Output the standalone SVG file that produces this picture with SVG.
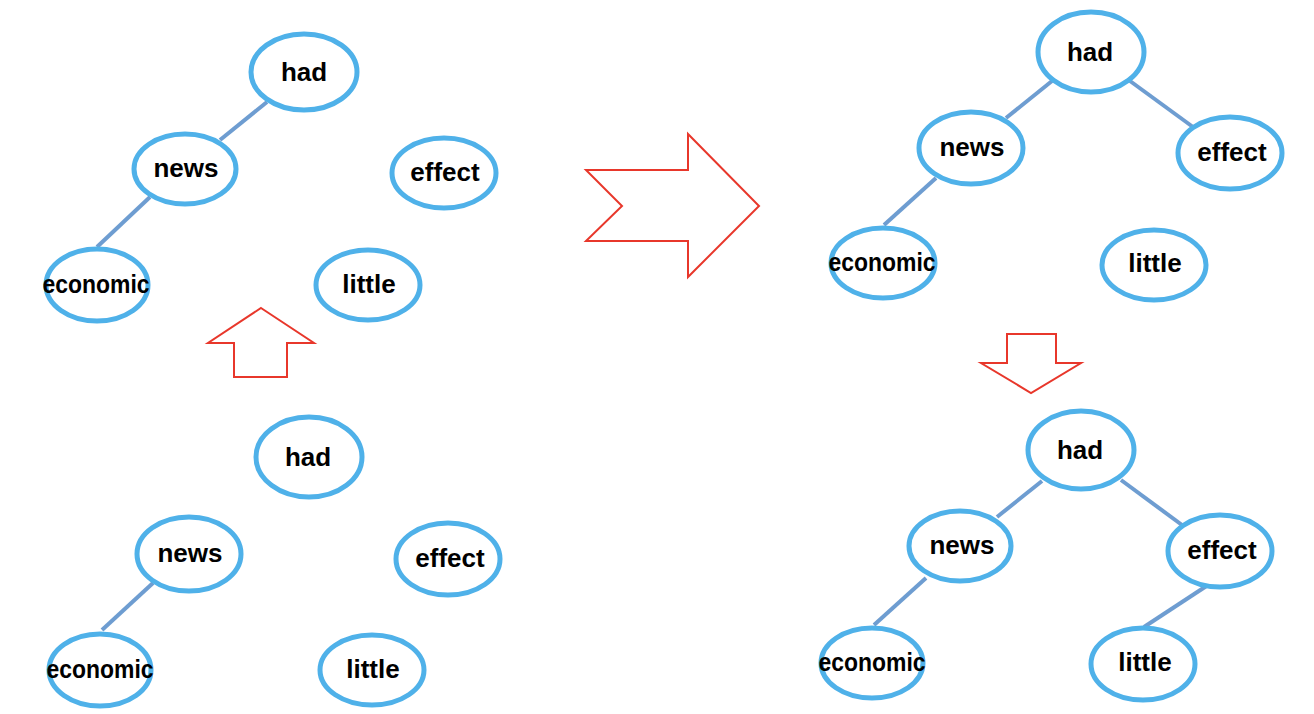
<svg xmlns="http://www.w3.org/2000/svg" width="1314" height="714" viewBox="0 0 1314 714">
<style>
.n ellipse{fill:#fff;stroke:#4fb1e9;stroke-width:5}
.n text{font-family:"Liberation Sans",Arial,sans-serif;font-weight:bold;font-size:26px;text-anchor:middle;fill:#000}
.e line{stroke:#6e9dd1;stroke-width:4;stroke-linecap:butt}
.a{fill:#fff;stroke:#e8372b;stroke-width:2}
</style>
<rect width="1314" height="714" fill="#fff"/>
<g class="e" id="connectors">
<line x1="267" y1="102" x2="220" y2="140"/>
<line x1="150" y1="197" x2="97" y2="247"/>
<line x1="1052" y1="81" x2="1006" y2="118"/>
<line x1="1130" y1="81" x2="1193" y2="127"/>
<line x1="936" y1="178" x2="884" y2="225"/>
<line x1="153" y1="583" x2="102" y2="630"/>
<line x1="1042" y1="481" x2="997" y2="517"/>
<line x1="1121" y1="480" x2="1182" y2="525"/>
<line x1="926" y1="578" x2="874" y2="625"/>
<line x1="1208" y1="585" x2="1144" y2="627"/>
</g>
<g id="arrows">
<polygon class="a" id="arrow-up" points="261,308 314,343 287,343 287,377 234,377 234,343 208,343"/>
<polygon class="a" id="arrow-right" points="586,170 688,170 688,134 759,206 688,277 688,241 586,241 622,206"/>
<polygon class="a" id="arrow-down" points="1007,334 1056,334 1056,363 1081,363 1031,393 981,363 1007,363"/>
</g>
<!-- panel 1: top-left -->
<g class="n" id="p1-had"><ellipse cx="304" cy="72" rx="53" ry="38"/><text x="304" y="81">had</text></g>
<g class="n" id="p1-news"><ellipse cx="185" cy="169" rx="51" ry="35"/><text x="186" y="177">news</text></g>
<g class="n" id="p1-effect"><ellipse cx="444" cy="173" rx="52" ry="35"/><text x="445" y="181">effect</text></g>
<g class="n" id="p1-economic"><ellipse cx="97" cy="285" rx="51" ry="36"/><text x="96" y="293" textLength="107" lengthAdjust="spacingAndGlyphs">economic</text></g>
<g class="n" id="p1-little"><ellipse cx="368" cy="285" rx="52" ry="35"/><text x="369" y="293">little</text></g>
<!-- panel 2: top-right -->
<g class="n" id="p2-had"><ellipse cx="1091" cy="52" rx="53" ry="40"/><text x="1090" y="61">had</text></g>
<g class="n" id="p2-news"><ellipse cx="971" cy="148" rx="52" ry="36"/><text x="972" y="156">news</text></g>
<g class="n" id="p2-effect"><ellipse cx="1230" cy="153" rx="52" ry="36"/><text x="1232" y="161">effect</text></g>
<g class="n" id="p2-economic"><ellipse cx="883" cy="263" rx="52" ry="35"/><text x="882" y="271" textLength="107" lengthAdjust="spacingAndGlyphs">economic</text></g>
<g class="n" id="p2-little"><ellipse cx="1154" cy="265" rx="52" ry="35"/><text x="1155" y="272">little</text></g>
<!-- panel 3: bottom-left -->
<g class="n" id="p3-had"><ellipse cx="309" cy="457" rx="53" ry="40"/><text x="308" y="466">had</text></g>
<g class="n" id="p3-news"><ellipse cx="189" cy="554" rx="52" ry="37"/><text x="190" y="562">news</text></g>
<g class="n" id="p3-effect"><ellipse cx="448" cy="559" rx="52" ry="36"/><text x="450" y="567">effect</text></g>
<g class="n" id="p3-economic"><ellipse cx="100" cy="670" rx="51" ry="36"/><text x="100" y="678" textLength="107" lengthAdjust="spacingAndGlyphs">economic</text></g>
<g class="n" id="p3-little"><ellipse cx="372" cy="670" rx="52" ry="35"/><text x="373" y="678">little</text></g>
<!-- panel 4: bottom-right -->
<g class="n" id="p4-had"><ellipse cx="1081" cy="450" rx="53" ry="39"/><text x="1080" y="459">had</text></g>
<g class="n" id="p4-news"><ellipse cx="960" cy="546" rx="51" ry="35"/><text x="962" y="554">news</text></g>
<g class="n" id="p4-effect"><ellipse cx="1220" cy="551" rx="52" ry="36"/><text x="1222" y="559">effect</text></g>
<g class="n" id="p4-economic"><ellipse cx="872" cy="663" rx="51" ry="35"/><text x="872" y="671" textLength="107" lengthAdjust="spacingAndGlyphs">economic</text></g>
<g class="n" id="p4-little"><ellipse cx="1143" cy="664" rx="52" ry="36"/><text x="1145" y="671">little</text></g>
</svg>
